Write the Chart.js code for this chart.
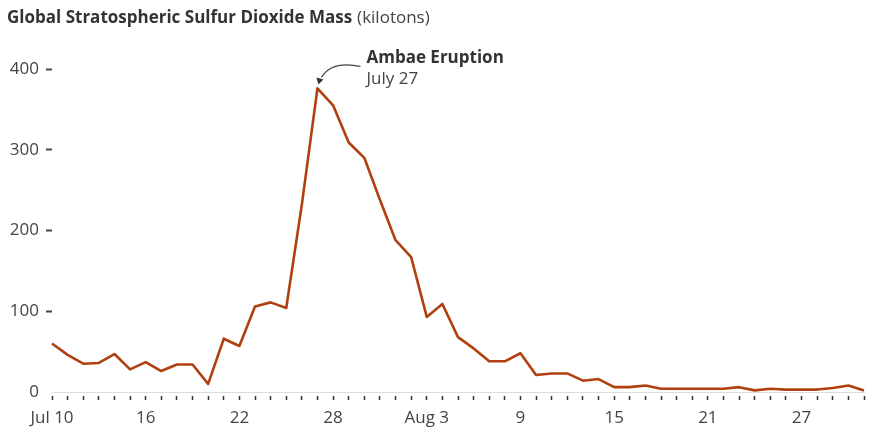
<!DOCTYPE html>
<html>
<head>
<meta charset="utf-8">
<script src="https://cdn.jsdelivr.net/npm/chart.js@4.4.1/dist/chart.umd.min.js"></script>
<style>
  html, body { margin: 0; padding: 0; background: #fff; }
  #wrap { width: 872px; height: 435px; position: relative; }
</style>
</head>
<body>
<div id="wrap"><canvas id="so2"></canvas></div>
<script>
// daily values, Jul 10 - Aug 31
const days = [
  'Jul 10','Jul 11','Jul 12','Jul 13','Jul 14','Jul 15','Jul 16','Jul 17','Jul 18','Jul 19',
  'Jul 20','Jul 21','Jul 22','Jul 23','Jul 24','Jul 25','Jul 26','Jul 27','Jul 28','Jul 29',
  'Jul 30','Jul 31','Aug 1','Aug 2','Aug 3','Aug 4','Aug 5','Aug 6','Aug 7','Aug 8',
  'Aug 9','Aug 10','Aug 11','Aug 12','Aug 13','Aug 14','Aug 15','Aug 16','Aug 17','Aug 18',
  'Aug 19','Aug 20','Aug 21','Aug 22','Aug 23','Aug 24','Aug 25','Aug 26','Aug 27','Aug 28',
  'Aug 29','Aug 30','Aug 31'
];
const so2Mass = [
  60, 46, 35, 36, 47, 28, 37, 26, 34, 34,
  10, 66, 57, 106, 111, 104, 232, 376, 355, 309,
  290, 238, 188, 167, 93, 109, 68, 54, 38, 38,
  48, 21, 23, 23, 14, 16, 6, 6, 8, 4,
  4, 4, 4, 4, 6, 2, 4, 3, 3, 3,
  5, 8, 2
];
const xTickLabels = { 'Jul 10': 'Jul 10', 'Jul 16': '16', 'Jul 22': '22', 'Jul 28': '28',
  'Aug 3': 'Aug 3', 'Aug 9': '9', 'Aug 15': '15', 'Aug 21': '21', 'Aug 27': '27' };
const yTicks = [0, 100, 200, 300, 400];
const eventDay = 'Jul 27';

const FONT = '"Open Sans", Lato, sans-serif';

const headerAndNote = {
  id: 'headerAndNote',
  afterDraw(chart) {
    const ctx = chart.ctx;
    ctx.save();
    // title
    ctx.textBaseline = 'alphabetic';
    ctx.fillStyle = '#333';
    ctx.font = 'bold 17px ' + FONT;
    const t1 = 'Global Stratospheric Sulfur Dioxide Mass';
    ctx.fillText(t1, 7, 23);
    const w = ctx.measureText(t1).width;
    ctx.font = '17px ' + FONT;
    ctx.fillStyle = '#444';
    ctx.fillText('(kilotons)', 7 + w + 5, 23);

    // eruption note
    const i = days.indexOf(eventDay);
    const px = chart.scales.x.getPixelForValue(i);
    const py = chart.scales.y.getPixelForValue(so2Mass[i]);
    ctx.fillStyle = '#333';
    ctx.font = 'bold 17px ' + FONT;
    ctx.fillText('Ambae Eruption', px + 49, py - 25);
    ctx.font = '17px ' + FONT;
    ctx.fillStyle = '#444';
    ctx.fillText('July 27', px + 49, py - 4);

    ctx.strokeStyle = '#444';
    ctx.lineWidth = 1.2;
    ctx.beginPath();
    ctx.moveTo(px + 43, py - 22);
    ctx.quadraticCurveTo(px + 14, py - 28, px + 4, py - 11);
    ctx.stroke();
    ctx.fillStyle = '#333';
    ctx.beginPath();
    ctx.moveTo(px + 1, py - 4);
    ctx.lineTo(px - 1, py - 11);
    ctx.lineTo(px + 6, py - 9);
    ctx.closePath();
    ctx.fill();
    ctx.restore();
  }
};

new Chart(document.getElementById('so2'), {
  type: 'line',
  data: {
    labels: days,
    datasets: [{
      data: so2Mass,
      borderColor: '#b0400f',
      borderWidth: 2.6,
      pointRadius: 0,
      tension: 0,
      borderJoinStyle: 'round'
    }]
  },
  options: {
    responsive: true,
    maintainAspectRatio: false,
    animation: false,
    layout: { padding: { top: 69, right: 5, left: 0, bottom: 0 } },
    plugins: { legend: { display: false }, tooltip: { enabled: false } },
    scales: {
      x: {
        offset: false,
        border: { display: true, color: '#dcdcdc', width: 1 },
        grid: {
          drawOnChartArea: false,
          drawTicks: true,
          tickLength: 8,
          tickWidth: 1.5,
          tickColor: '#333',
          tickBorderDash: [0, 3, 4, 10]
        },
        ticks: {
          autoSkip: false,
          maxRotation: 0,
          padding: 8,
          color: '#444',
          font: { family: FONT, size: 17 },
          callback: (v, i) => xTickLabels[days[i]] || ''
        },
        afterFit: s => { s.height = 43; }
      },
      y: {
        min: 0,
        max: 400,
        border: { display: false },
        grid: {
          drawOnChartArea: false,
          drawTicks: true,
          tickLength: 9,
          tickWidth: 2,
          tickColor: c => c.tick && c.tick.value === 0 ? 'rgba(0,0,0,0)' : '#444',
          tickBorderDash: [0, 3, 6, 20]
        },
        afterBuildTicks: s => { s.ticks = yTicks.map(v => ({ value: v })); },
        ticks: {
          padding: 4,
          color: '#444',
          font: { family: FONT, size: 17 }
        },
        afterFit: s => { s.width = 52; }
      }
    }
  },
  plugins: [headerAndNote]
});
</script>
</body>
</html>
